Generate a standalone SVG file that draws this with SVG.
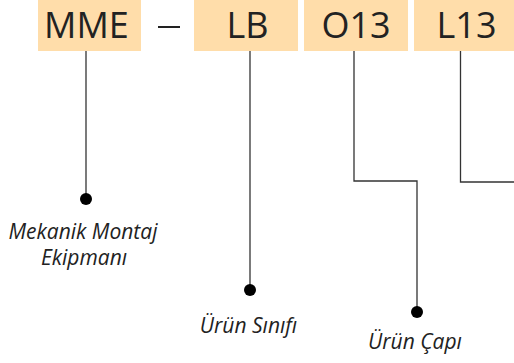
<svg xmlns="http://www.w3.org/2000/svg" width="514" height="363" viewBox="0 0 514 363">
<style>
.box{fill:#FFDDAA}
.code{font-family:"Open Sans",Calibri,sans-serif;font-size:36px;fill:#222;text-anchor:middle}
.lbl{font-family:"Open Sans",Calibri,sans-serif;font-size:21px;font-style:italic;fill:#222;text-anchor:middle}
.ln{fill:none;stroke:#333;stroke-width:1.3}
.dot{fill:#000}
</style>
<rect width="514" height="363" fill="#fff"/>
<g id="n-mme"><rect class="box" x="38" y="0" width="103" height="51"/><text class="code" x="86.5" y="38">MME</text></g>
<g id="n-dash"><rect x="158" y="26" width="22" height="2" fill="#222"/></g>
<g id="n-lb"><rect class="box" x="194" y="0" width="104" height="51"/><text class="code" x="247.5" y="38">LB</text></g>
<g id="n-o13"><rect class="box" x="304" y="0" width="104" height="51"/><text class="code" x="356" y="38">O13</text></g>
<g id="n-l13"><rect class="box" x="414" y="0" width="100" height="51"/><text class="code" x="466.5" y="38">L13</text></g>
<g id="connectors">
<polyline class="ln" points="86,51 86,199"/>
<polyline class="ln" points="250,51 250,290"/>
<polyline class="ln" points="354,51 354,181 417,181 417,312"/>
<polyline class="ln" points="460.5,51 460.5,182 514,182"/>
<circle class="dot" cx="86" cy="199" r="6"/>
<circle class="dot" cx="250" cy="290" r="6"/>
<circle class="dot" cx="417" cy="312" r="6"/>
</g>
<g id="l-mme"><text class="lbl" x="83" y="239">Mekanik Montaj</text><text class="lbl" x="84" y="265">Ekipmanı</text></g>
<g id="l-lb"><text class="lbl" x="248.5" y="333">Ürün Sınıfı</text></g>
<g id="l-o13"><text class="lbl" x="415" y="349">Ürün Çapı</text></g>
</svg>
